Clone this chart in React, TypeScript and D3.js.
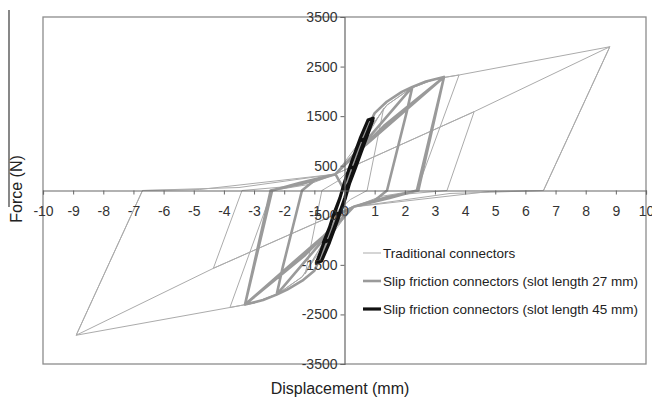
import { useRef, useEffect } from 'react';
import * as d3 from 'd3';

type Pt = [number, number];

// x ticks (mm) and y ticks (N)
const xTicks = [-10, -9, -8, -7, -6, -5, -4, -3, -2, -1, 0, 1, 2, 3, 4, 5, 6, 7, 8, 9, 10];
const yTicks = [-3500, -2500, -1500, -500, 500, 1500, 2500, 3500];

const seriesNames = [
    'Traditional connectors',
    'Slip friction connectors (slot length 27 mm)',
    'Slip friction connectors (slot length 45 mm)',
];

// Traditional connectors: displacement (mm), force (N)
const traditional: Pt[] = [
    [0, 0], [0.3, 450], [0.8, 1150], [1.3, 1660],
    [0.75, 0], [0.2, -180], [-0.3, -450], [-0.8, -1150], [-1.3, -1680],
    [-0.75, 0], [-0.2, 200],
    [0.3, 500], [0.9, 1300], [1.4, 1720], [2.2, 2060], [3.0, 2250], [3.8, 2330],
    [2.4, 0], [1.2, -120], [0.3, -330],
    [-0.5, -850], [-1.4, -1740], [-2.2, -2080], [-3.0, -2270], [-3.8, -2360],
    [-2.4, 0], [-1.2, 120], [-0.3, 330],
    [0.9, 1300], [1.4, 1720], [2.2, 2060], [3.0, 2250], [3.8, 2330], [8.8, 2900],
    [6.6, 0], [3.5, -60], [0.25, -335],
    [-0.9, -1300], [-1.4, -1740], [-2.2, -2080], [-3.0, -2270], [-3.8, -2360], [-8.9, -2920],
    [-6.7, 0], [-3.5, 60], [-0.3, 330],
    [4.3, 1590], [3.4, 0], [1.5, -100], [0.25, -330],
    [-4.35, -1570], [-3.4, 0], [-1.5, 100], [-0.3, 330],
    [4.3, 1590], [8.8, 2900], [6.6, 0], [4.8, -20], [0.25, -335],
    [-4.35, -1570], [-8.9, -2920], [-6.7, 0], [-4.8, 20], [-0.3, 330], [0, 0],
];

// Slip friction connectors, slot length 27 mm
const slot27: Pt[] = [
    [0, 0], [0.25, 500], [0.6, 1050], [1.0, 1560], [1.4, 1790], [1.9, 1990], [2.25, 2090],
    [2.05, 1550], [1.41, 0], [1.0, -200], [0.3, -330],
    [-0.25, -500], [-0.6, -1080], [-1.0, -1620], [-1.4, -1820], [-1.9, -2000], [-2.25, -2100],
    [-2.05, -1550], [-1.41, 0], [-1.0, 200], [-0.3, 330],
    [0.5, 850], [2.25, 2090], [2.7, 2200], [3.3, 2290],
    [2.4, 0], [1.5, -150], [0.3, -330],
    [-0.5, -850], [-2.25, -2100], [-2.7, -2210], [-3.3, -2300],
    [-2.4, 0], [-1.5, 150], [-0.3, 330],
    [0.7, 920], [3.3, 2290], [2.85, 1100], [2.4, 0], [1.6, -130], [0.3, -330],
    [-0.7, -920], [-3.3, -2300], [-2.85, -1100], [-2.4, 0], [-1.6, 130], [-0.3, 330],
    [1.3, 1300], [3.3, 2290], [2.45, 0], [1.4, -140], [0.3, -330],
    [-1.3, -1300], [-3.3, -2300], [-2.45, 0], [-1.4, 140], [-0.3, 330], [0, 0],
];

// Slip friction connectors, slot length 45 mm
const slot45: Pt[] = [
    [0, 0], [0.15, 150], [0.34, 480], [0.16, 450], [-0.01, 150], [-0.15, -150], [-0.34, -480],
    [-0.16, -450], [0.01, -150], [0.15, 150], [0.32, 450], [0.5, 750], [0.7, 1050],
    [0.5, 1000], [0.34, 750], [0.16, 450], [-0.01, 150], [-0.15, -150], [-0.34, -450],
    [-0.5, -750], [-0.7, -1050], [-0.5, -1000], [-0.34, -750], [-0.16, -450], [0.01, -150],
    [0.15, 150], [0.32, 450], [0.5, 750], [0.68, 1050], [0.95, 1460], [0.78, 1420],
    [0.52, 1050], [0.34, 750], [0.16, 450], [-0.01, 150], [-0.15, -150], [-0.34, -450],
    [-0.5, -750], [-0.68, -1050], [-0.93, -1460], [-0.76, -1420], [-0.5, -1050], [-0.32, -750],
    [-0.14, -450], [0.03, -150], [0.17, 150], [0.36, 450], [0.54, 750], [0.72, 1050], [0.95, 1440],
];

const FONT = '"Liberation Sans", Arial, sans-serif';

const HysteresisChart = () => {
    const svgRef = useRef<SVGSVGElement | null>(null);

    useEffect(() => {
        const svgElement = svgRef.current;
        if (!svgElement) return;

        const width = 652;
        const height = 403;
        const margin = { top: 17, right: 6, bottom: 39, left: 43 };

        const svg = d3.select(svgElement);
        svg.selectAll('*').remove();

        const x = d3.scaleLinear()
            .domain([-10, 10])
            .range([margin.left, width - margin.right]);

        const y = d3.scaleLinear()
            .domain([-3500, 3500])
            .range([height - margin.bottom, margin.top]);

        // plot frame
        svg.append('rect')
            .attr('x', margin.left)
            .attr('y', margin.top)
            .attr('width', width - margin.left - margin.right)
            .attr('height', height - margin.top - margin.bottom)
            .attr('fill', '#fff')
            .attr('stroke', '#8c8c8c')
            .attr('stroke-width', 1.3);

        // stray rule beside the y title
        svg.append('line')
            .attr('x1', 9).attr('x2', 9)
            .attr('y1', 10).attr('y2', 207)
            .attr('stroke', '#555')
            .attr('stroke-width', 1.4);

        const line = d3.line<Pt>()
            .x(d => x(d[0]))
            .y(d => y(d[1]));

        svg.append('path')
            .datum(traditional)
            .attr('fill', 'none')
            .attr('stroke', '#ababab')
            .attr('stroke-width', 1)
            .attr('stroke-linejoin', 'round')
            .attr('d', line);

        svg.append('path')
            .datum(slot27)
            .attr('fill', 'none')
            .attr('stroke', '#9a9a9a')
            .attr('stroke-width', 2.6)
            .attr('stroke-linejoin', 'round')
            .attr('d', line);

        svg.append('path')
            .datum(slot45)
            .attr('fill', 'none')
            .attr('stroke', '#111')
            .attr('stroke-width', 3.2)
            .attr('stroke-linejoin', 'round')
            .attr('d', line);

        // x axis through zero force
        const xAxis = svg.append('g')
            .attr('transform', `translate(0, ${y(0)})`)
            .call(d3.axisBottom(x)
                .tickValues(xTicks)
                .tickSize(4)
                .tickPadding(12)
                .tickFormat(d => `${d}`));

        xAxis.select('.domain').attr('stroke', '#666').attr('stroke-width', 1.2);
        xAxis.selectAll('.tick line').attr('stroke', '#666');
        xAxis.selectAll('text')
            .attr('fill', '#333')
            .style('font-family', FONT)
            .style('font-size', '14px');

        // y axis through zero displacement
        const yAxis = svg.append('g')
            .attr('transform', `translate(${x(0)}, 0)`)
            .call(d3.axisLeft(y)
                .tickValues(yTicks)
                .tickSize(4)
                .tickPadding(3)
                .tickFormat(d => `${d}`));

        yAxis.select('.domain').attr('stroke', '#666').attr('stroke-width', 1.2);
        yAxis.selectAll('.tick line').attr('stroke', '#666');
        yAxis.selectAll('text')
            .attr('fill', '#333')
            .style('font-family', FONT)
            .style('font-size', '14px');

        // axis titles
        svg.append('text')
            .attr('x', 340)
            .attr('y', 394)
            .attr('text-anchor', 'middle')
            .text('Displacement (mm)')
            .style('font-family', FONT)
            .style('font-size', '16px')
            .style('fill', '#222');

        svg.append('text')
            .attr('transform', 'translate(22, 189) rotate(-90)')
            .attr('text-anchor', 'middle')
            .text('Force (N)')
            .style('font-family', FONT)
            .style('font-size', '16px')
            .style('fill', '#222');

        // legend
        const legendStyles = [
            { stroke: '#ababab', width: 1 },
            { stroke: '#9a9a9a', width: 2.6 },
            { stroke: '#111', width: 3.2 },
        ];
        const legend = svg.append('g').attr('transform', 'translate(363, 253)');
        seriesNames.forEach((name, i) => {
            const row = legend.append('g').attr('transform', `translate(0, ${i * 28})`);
            row.append('line')
                .attr('x1', 0).attr('x2', 18)
                .attr('y1', 0).attr('y2', 0)
                .attr('stroke', legendStyles[i].stroke)
                .attr('stroke-width', legendStyles[i].width);
            row.append('text')
                .attr('x', 20)
                .attr('y', 5)
                .text(name)
                .style('font-family', FONT)
                .style('font-size', '13.5px')
                .style('fill', '#222');
        });
    }, []);

    return (
        <svg
            ref={svgRef}
            width={652}
            height={403}
            style={{ position: 'absolute', left: 0, top: 0, background: '#fff' }}
        />
    );
};

export default function App() {
    return <HysteresisChart />;
}
